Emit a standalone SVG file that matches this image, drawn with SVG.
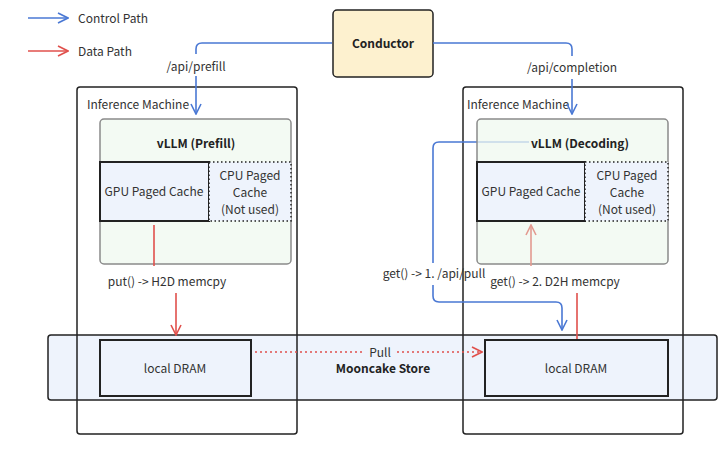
<svg xmlns="http://www.w3.org/2000/svg" width="720" height="454" viewBox="0 0 720 454">
<style>
text{font-family:"Noto Sans CJK SC","Noto Sans",Lato,sans-serif;font-size:12px;fill:#333}
.b{font-weight:bold;fill:#222}
.m{text-anchor:middle}
.blue{fill:none;stroke:#4a78d4;stroke-width:1.6}
.red{fill:none;stroke:#e0504c;stroke-width:1.6}
.box{stroke:#222;stroke-width:2}
</style>
<defs>
<marker id="ab" viewBox="0 0 12 12" refX="11" refY="6" markerWidth="12" markerHeight="12" markerUnits="userSpaceOnUse" orient="auto"><path d="M1,1 L11,6 L1,11" fill="none" stroke="#4a78d4" stroke-width="1.6"/></marker>
<marker id="ar" viewBox="0 0 12 12" refX="11" refY="6" markerWidth="12" markerHeight="12" markerUnits="userSpaceOnUse" orient="auto"><path d="M1,1 L11,6 L1,11" fill="none" stroke="#e0504c" stroke-width="1.6"/></marker>
<marker id="arl" viewBox="0 0 12 12" refX="11" refY="6" markerWidth="12" markerHeight="12" markerUnits="userSpaceOnUse" orient="auto"><path d="M1,1 L11,6 L1,11" fill="none" stroke="#e39a90" stroke-width="1.6"/></marker>
</defs>
<rect width="720" height="454" fill="#fff"/>
<g id="legend">
<line class="blue" x1="28" y1="18" x2="68" y2="18" marker-end="url(#ab)"/>
<text x="78" y="23">Control Path</text>
<line class="red" x1="28" y1="51" x2="68" y2="51" marker-end="url(#ar)"/>
<text x="78" y="56">Data Path</text>
</g>
<g id="mooncake-store">
<rect x="48" y="335" width="669" height="65" rx="3" fill="#eef3fc" stroke="#222" stroke-width="1.5"/>
<text class="b m" x="383" y="373">Mooncake Store</text>
</g>
<g id="inference-machine-left">
<rect x="77" y="87" width="220" height="347" rx="3" fill="none" stroke="#222" stroke-width="1.5"/>
<text x="87" y="109">Inference Machine</text>
</g>
<g id="inference-machine-right">
<rect x="463" y="87" width="220" height="347" rx="3" fill="none" stroke="#222" stroke-width="1.5"/>
<text x="467" y="109">Inference Machine</text>
</g>
<g id="conductor">
<rect x="333" y="10" width="100" height="67" rx="4" fill="#fdf1cf" stroke="#222" stroke-width="1.5"/>
<text class="b m" x="383" y="48">Conductor</text>
</g>
<g id="connectors-under">
<path class="blue" d="M529,142 H439 Q433,142 433,148 V263"/>
</g>
<g id="vllm-prefill">
<rect x="100" y="119" width="191" height="145" rx="4" fill="#eff8ef" fill-opacity="0.75" stroke="#8a8a8a" stroke-width="1.5"/>
<text class="b m" x="196" y="148">vLLM (Prefill)</text>
</g>
<g id="gpu-cache-left">
<rect class="box" x="100" y="162" width="109" height="59" fill="#eef3fc"/>
<text class="m" x="154" y="196">GPU Paged Cache</text>
</g>
<g id="cpu-cache-left">
<rect x="209" y="162" width="82" height="59" fill="#eef3fc" stroke="#222" stroke-width="1.5" stroke-dasharray="1.5,2.5"/>
<text class="m" x="250" y="180">CPU Paged</text>
<text class="m" x="250" y="197">Cache</text>
<text class="m" x="250" y="214">(Not used)</text>
</g>
<g id="vllm-decoding">
<rect x="477" y="119" width="191" height="145" rx="4" fill="#eff8ef" fill-opacity="0.75" stroke="#8a8a8a" stroke-width="1.5"/>
<text class="b m" x="580" y="148">vLLM (Decoding)</text>
</g>
<g id="gpu-cache-right">
<rect class="box" x="477" y="162" width="108" height="59" fill="#eef3fc"/>
<text class="m" x="531" y="196">GPU Paged Cache</text>
</g>
<g id="cpu-cache-right">
<rect x="585" y="162" width="83" height="59" fill="#eef3fc" stroke="#222" stroke-width="1.5" stroke-dasharray="1.5,2.5"/>
<text class="m" x="627" y="180">CPU Paged</text>
<text class="m" x="627" y="197">Cache</text>
<text class="m" x="627" y="214">(Not used)</text>
</g>
<g id="dram-left">
<rect class="box" x="100" y="340" width="151" height="56" fill="#eef3fc"/>
<text class="m" x="175" y="373">local DRAM</text>
</g>
<g id="dram-right">
<rect class="box" x="485" y="340" width="183" height="56" fill="#eef3fc"/>
<text class="m" x="576" y="373">local DRAM</text>
</g>
<g id="connectors">
<path class="blue" d="M332,43 H202 Q196,43 196,49 V54"/>
<path class="blue" d="M196,76 V114" marker-end="url(#ab)"/>
<path class="blue" d="M433,43 H566 Q572,43 572,49 V56"/>
<path class="blue" d="M572,79 V114" marker-end="url(#ab)"/>
<path class="blue" d="M433,285 V296 Q433,302 439,302 H556 Q562,302 562,308 V330" marker-end="url(#ab)"/>
<path class="red" d="M154,225 V266"/>
<path class="red" d="M176,293 V335" marker-end="url(#ar)"/>
<path d="M531,266 V225" fill="none" stroke="#e39a90" stroke-width="1.6" marker-end="url(#arl)"/>
<path class="red" d="M577,293 V339"/>
<path class="red" d="M255,352 H362" stroke-dasharray="2,3"/>
<path class="red" d="M397,352 H482" stroke-dasharray="2,3" marker-end="url(#ar)"/>
<text class="m" x="196" y="71">/api/prefill</text>
<text class="m" x="572" y="72">/api/completion</text>
<text class="m" x="167" y="286">put() -&gt; H2D memcpy</text>
<text class="m" x="434" y="278">get() -&gt; 1. /api/pull</text>
<text class="m" x="555" y="286">get() -&gt; 2. D2H memcpy</text>
<text class="m" x="380" y="357">Pull</text>
</g>
</svg>
